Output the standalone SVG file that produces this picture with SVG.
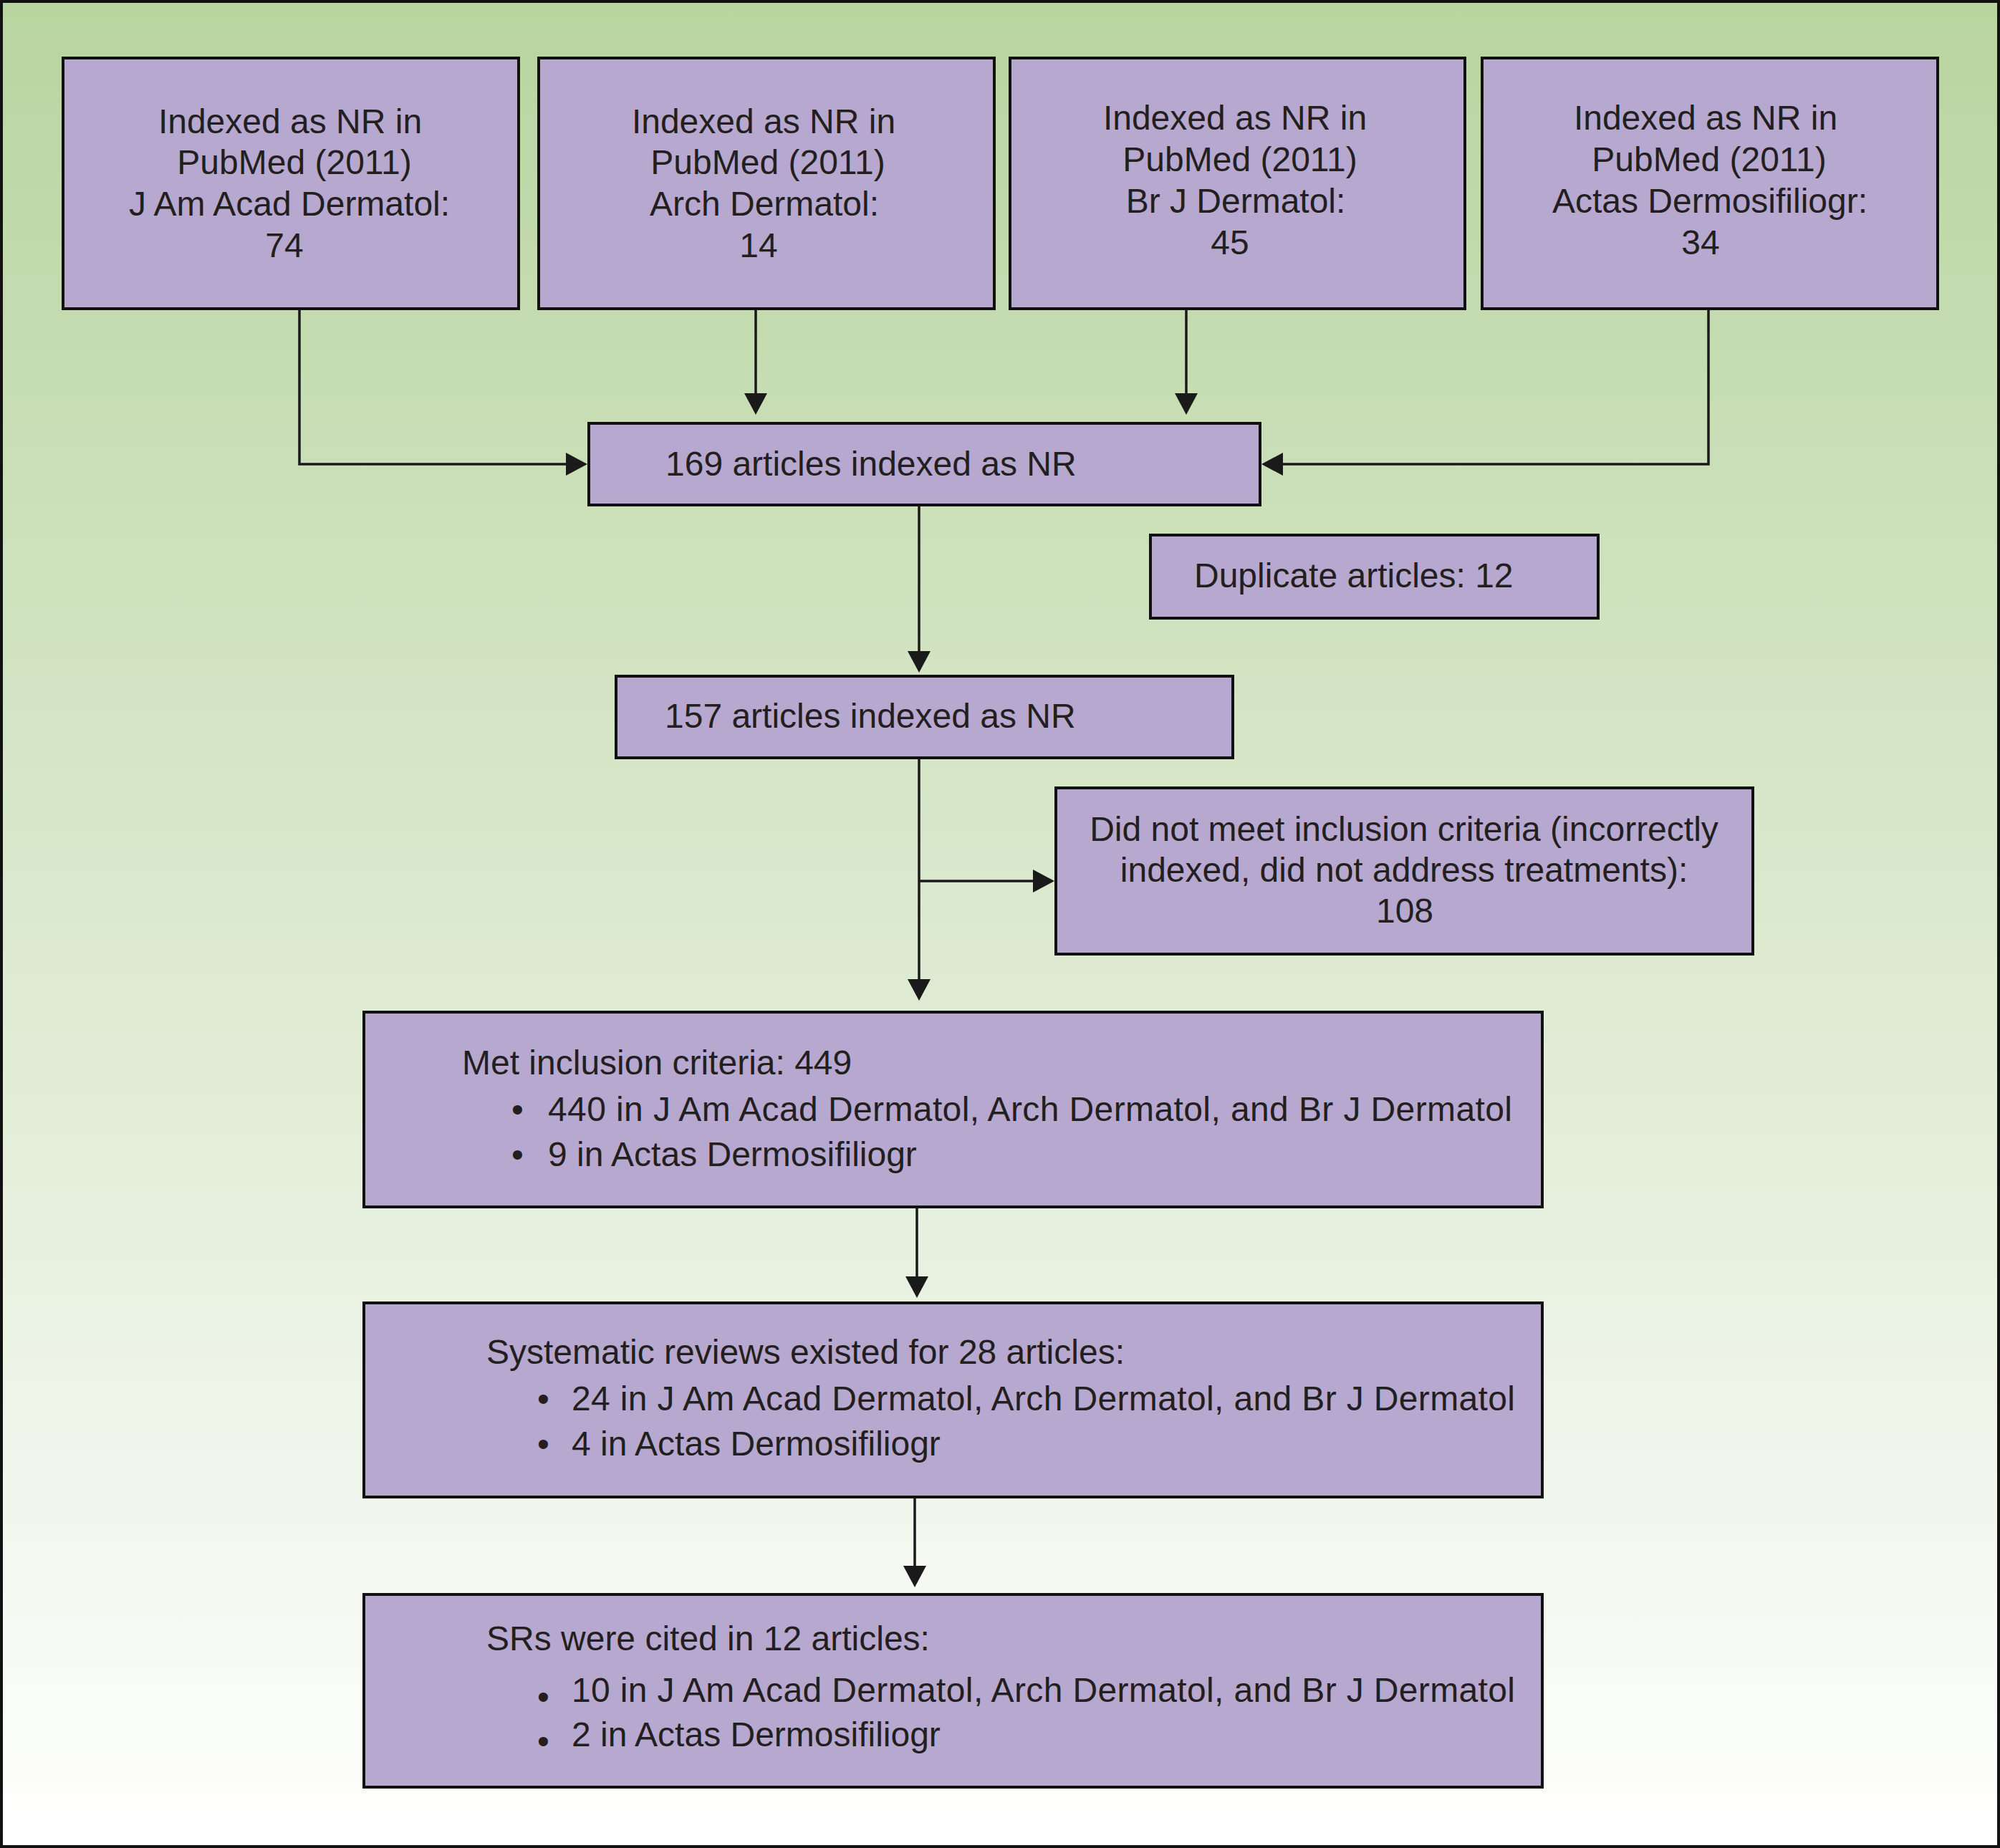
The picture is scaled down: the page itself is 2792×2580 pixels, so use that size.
<svg xmlns="http://www.w3.org/2000/svg" width="2792" height="2580" viewBox="0 0 2792 2580">
  <defs>
    <linearGradient id="bg" x1="0" y1="0" x2="0" y2="1">
      <stop offset="0" stop-color="#b8d49f"/>
      <stop offset="1" stop-color="#ffffff"/>
    </linearGradient>
    <marker id="arrow" markerUnits="userSpaceOnUse" markerWidth="32" markerHeight="34" refX="22" refY="16" orient="auto">
      <path d="M0,0 L30,16 L0,32 Z" fill="#1a1a1a"/>
    </marker>
    <style>
      .box { fill: #b7a8cf; stroke: #111111; stroke-width: 4; }
      .t { font-family: "Liberation Sans", Arial, Helvetica, sans-serif; font-size: 48px; fill: #231f20; }
      .c { text-anchor: middle; }
      .conn { fill: none; stroke: #1a1a1a; stroke-width: 3.5; marker-end: url(#arrow); }
    </style>
  </defs>

  <rect id="background" x="2" y="2" width="2788" height="2576" fill="url(#bg)" stroke="#111111" stroke-width="4"/>

  <g id="connectors">
    <path class="conn" d="M418,433 V648 H812"/>
    <path class="conn" d="M1055,433 V571"/>
    <path class="conn" d="M1656,433 V571"/>
    <path class="conn" d="M2385,433 V648 H1769"/>
    <path class="conn" d="M1283,707 V931"/>
    <path class="conn" d="M1283,1060 V1389"/>
    <path class="conn" d="M1283,1230 H1464"/>
    <path class="conn" d="M1280,1687 V1804"/>
    <path class="conn" d="M1277,2092 V2208"/>
  </g>

  <g id="node-jaad">
    <rect class="box" x="88" y="81" width="636" height="350"/>
    <text class="t c" x="405" y="186">Indexed as NR in</text>
    <text class="t c" x="411" y="243">PubMed (2011)</text>
    <text class="t c" x="404" y="301">J Am Acad Dermatol:</text>
    <text class="t c" x="397" y="359">74</text>
  </g>

  <g id="node-arch">
    <rect class="box" x="752" y="81" width="636" height="350"/>
    <text class="t c" x="1066" y="186">Indexed as NR in</text>
    <text class="t c" x="1072" y="243">PubMed (2011)</text>
    <text class="t c" x="1067" y="301">Arch Dermatol:</text>
    <text class="t c" x="1059" y="359">14</text>
  </g>

  <g id="node-bjd">
    <rect class="box" x="1410" y="81" width="635" height="350"/>
    <text class="t c" x="1724" y="181">Indexed as NR in</text>
    <text class="t c" x="1731" y="239">PubMed (2011)</text>
    <text class="t c" x="1725" y="297">Br J Dermatol:</text>
    <text class="t c" x="1717" y="355">45</text>
  </g>

  <g id="node-actas">
    <rect class="box" x="2069" y="81" width="636" height="350"/>
    <text class="t c" x="2381" y="181">Indexed as NR in</text>
    <text class="t c" x="2386" y="239">PubMed (2011)</text>
    <text class="t c" x="2387" y="297">Actas Dermosifiliogr:</text>
    <text class="t c" x="2374" y="355">34</text>
  </g>

  <g id="node-169">
    <rect class="box" x="822" y="591" width="937" height="114"/>
    <text class="t" x="929" y="664">169 articles indexed as NR</text>
  </g>

  <g id="node-duplicate">
    <rect class="box" x="1606" y="747" width="625" height="116"/>
    <text class="t" x="1667" y="820">Duplicate articles: 12</text>
  </g>

  <g id="node-157">
    <rect class="box" x="860" y="944" width="861" height="114"/>
    <text class="t" x="928" y="1016">157 articles indexed as NR</text>
  </g>

  <g id="node-excluded">
    <rect class="box" x="1474" y="1100" width="973" height="232"/>
    <text class="t c" x="1960" y="1174">Did not meet inclusion criteria (incorrectly</text>
    <text class="t c" x="1960" y="1231">indexed, did not address treatments):</text>
    <text class="t c" x="1961" y="1288">108</text>
  </g>

  <g id="node-met">
    <rect class="box" x="508" y="1413" width="1645" height="272"/>
    <text class="t" x="645" y="1500">Met inclusion criteria: 449</text>
    <text class="t" x="714" y="1565">•</text>
    <text class="t" x="765" y="1565" textLength="1346" lengthAdjust="spacing">440 in J Am Acad Dermatol, Arch Dermatol, and Br J Dermatol</text>
    <text class="t" x="714" y="1628">•</text>
    <text class="t" x="765" y="1628">9 in Actas Dermosifiliogr</text>
  </g>

  <g id="node-systematic">
    <rect class="box" x="508" y="1819" width="1645" height="271"/>
    <text class="t" x="679" y="1904">Systematic reviews existed for 28 articles:</text>
    <text class="t" x="750" y="1969">•</text>
    <text class="t" x="798" y="1969" textLength="1317" lengthAdjust="spacing">24 in J Am Acad Dermatol, Arch Dermatol, and Br J Dermatol</text>
    <text class="t" x="750" y="2032">•</text>
    <text class="t" x="798" y="2032">4 in Actas Dermosifiliogr</text>
  </g>

  <g id="node-srs">
    <rect class="box" x="508" y="2226" width="1645" height="269"/>
    <text class="t" x="679" y="2304">SRs were cited in 12 articles:</text>
    <text class="t" x="750" y="2385">•</text>
    <text class="t" x="798" y="2376" textLength="1317" lengthAdjust="spacing">10 in J Am Acad Dermatol, Arch Dermatol, and Br J Dermatol</text>
    <text class="t" x="750" y="2447">•</text>
    <text class="t" x="798" y="2438">2 in Actas Dermosifiliogr</text>
  </g>
</svg>
